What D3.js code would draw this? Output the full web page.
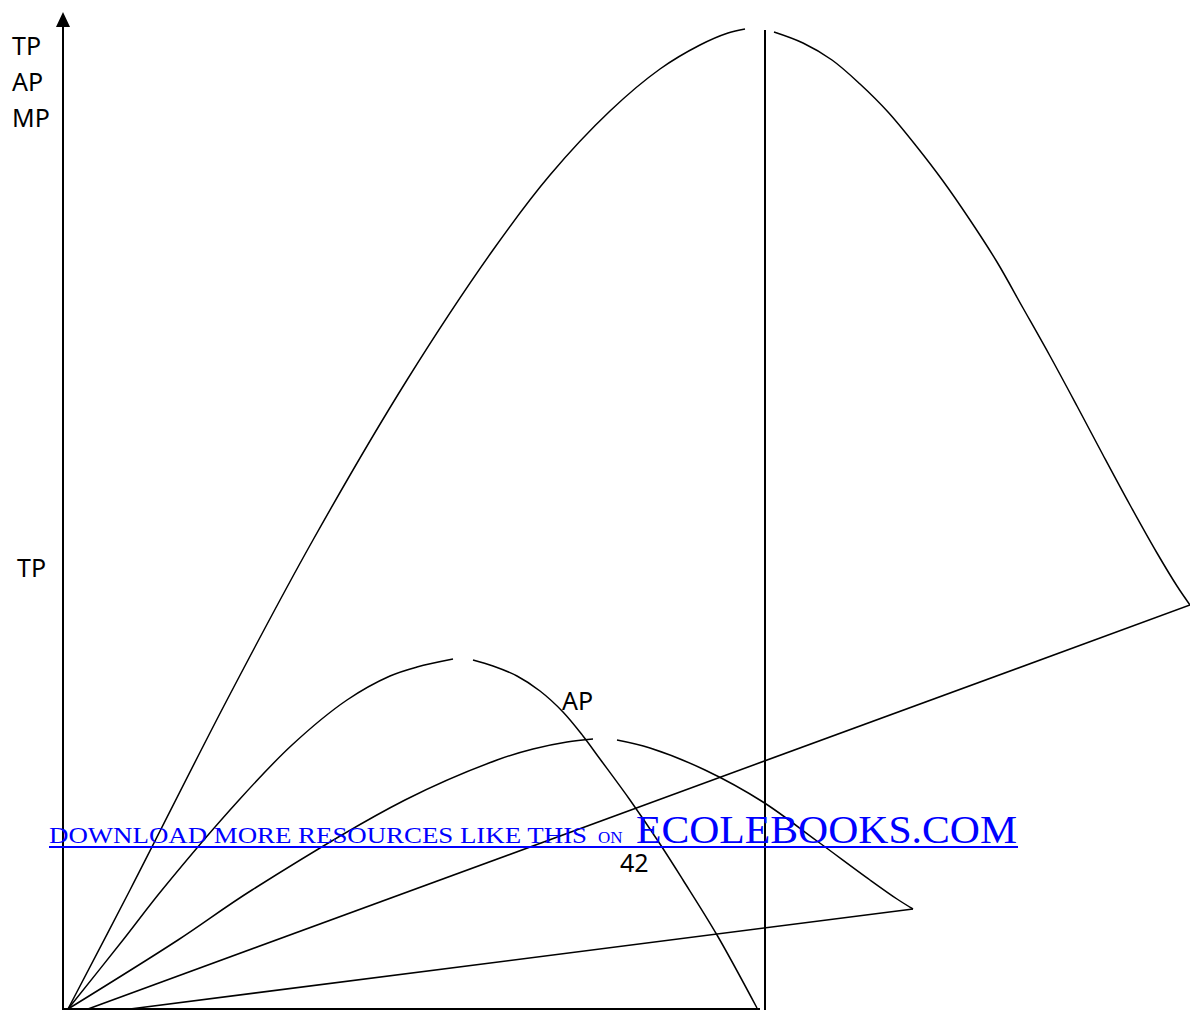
<!DOCTYPE html>
<html>
<head>
<meta charset="utf-8">
<script src="https://cdn.jsdelivr.net/npm/d3@7"></script>
<style>
  html, body { margin: 0; padding: 0; background: #fff; }
  svg { display: block; }
</style>
</head>
<body>
<svg id="chart" width="1190" height="1010"></svg>
<script>
// ---- data (drawing units: x = input, y = output) ----
const axisLabels = ["TP", "AP", "MP"];
const curveLabels = [
  { text: "TP", x: -51, y: 432 },
  { text: "AP", x: 494, y: 299 }
];
const pageNumber = "42";
const linkMain = "DOWNLOAD  MORE RESOURCES LIKE THIS";
const linkOn = "ON";
const linkBig = "ECOLEBOOKS.COM";

// Total product curve (rises to a maximum, then falls)
const tpRising = [[0,0],[62,119],[159,309],[245,469],[339,629],[425,759],[482,834],[542,898],[592,940],[632,964],[660,976],[677,980]];
const tpFalling = [[706,977],[735,966],[764,949],[792,925],[820,897],[849,862],[875,828],[902,789],[929,747],[955,701],[982,653],[1009,603],[1035,554],[1062,504],[1089,456],[1109,423],[1122,404]];

// Marginal product hump
const mpRising = [[0,0],[55,69],[94,119],[171,209],[224,264],[279,309],[322,333],[349,342],[385,350]];
const mpFalling = [[405,349],[425,343],[449,333],[472,318],[495,297],[515,273],[532,250],[562,209],[592,165],[615,129],[649,74],[689,1]];

// Average product hump
const apRising = [[0,0],[110,69],[184,119],[337,209],[429,249],[465,260],[499,267],[525,270]];
const apFalling = [[549,269],[582,261],[637,239],[695,207],[749,168],[802,129],[829,110],[845,100]];

// Straight rays
const rayUpper = [[20,0],[1122,404]];
const rayLower = [[62,0],[845,100]];

// Maximum-TP vertical and axis extents
const maxTPInput = 697;
const xAxisEnd = 692;
const yAxisTop = 997;

// ---- scales ----
const x = d3.scaleLinear().domain([0, 1122]).range([68, 1190]);
const y = d3.scaleLinear().domain([0, 1000]).range([1009, 9]);

const svg = d3.select("#chart");
svg.append("rect").attr("width", 1190).attr("height", 1010).attr("fill", "#fff");

const line = d3.line().x(d => x(d[0])).y(d => y(d[1])).curve(d3.curveCatmullRom.alpha(0.5));
const straight = d3.line().x(d => x(d[0])).y(d => y(d[1]));

const curves = [tpRising, tpFalling, mpRising, mpFalling, apRising, apFalling];
svg.selectAll("path.curve").data(curves).join("path")
  .attr("class", "curve")
  .attr("d", line)
  .attr("fill", "none").attr("stroke", "#000").attr("stroke-width", 1.5);

svg.selectAll("path.ray").data([rayUpper, rayLower]).join("path")
  .attr("class", "ray")
  .attr("d", straight)
  .attr("fill", "none").attr("stroke", "#000").attr("stroke-width", 1.6);

// axes
const axisX0 = 63;
svg.append("line").attr("x1", axisX0).attr("x2", axisX0)
  .attr("y1", y(0) + 1).attr("y2", y(yAxisTop) + 12)
  .attr("stroke", "#000").attr("stroke-width", 2);
svg.append("path")
  .attr("d", `M${axisX0},${y(yAxisTop)} L${axisX0 - 7},${y(yAxisTop) + 15} L${axisX0 + 7},${y(yAxisTop) + 15} Z`)
  .attr("fill", "#000");
svg.append("line").attr("x1", axisX0).attr("x2", x(xAxisEnd))
  .attr("y1", y(0)).attr("y2", y(0))
  .attr("stroke", "#000").attr("stroke-width", 2);

// vertical at maximum TP
svg.append("line").attr("x1", x(maxTPInput)).attr("x2", x(maxTPInput))
  .attr("y1", y(979)).attr("y2", y(0) + 1)
  .attr("stroke", "#000").attr("stroke-width", 2);

// axis labels
svg.selectAll("text.axlab").data(axisLabels).join("text")
  .attr("class", "axlab")
  .attr("x", 12).attr("y", (d, i) => 55 + i * 36)
  .attr("font-family", "'Noto Sans', sans-serif").attr("font-size", 25)
  .attr("fill", "#000").text(d => d);

svg.selectAll("text.clab").data(curveLabels).join("text")
  .attr("class", "clab")
  .attr("x", d => x(d.x)).attr("y", d => y(d.y))
  .attr("font-family", "'Noto Sans', sans-serif").attr("font-size", 25)
  .attr("fill", "#000").text(d => d.text);

// watermark link
const serif = "'Liberation Serif', 'Times New Roman', serif";
const link = svg.append("g");
link.append("text")
  .attr("x", 49).attr("y", 843)
  .attr("font-family", serif).attr("font-size", 24)
  .attr("textLength", 538).attr("lengthAdjust", "spacingAndGlyphs")
  .attr("fill", "#0000ff").text(linkMain);
link.append("text")
  .attr("x", 598).attr("y", 843)
  .attr("font-family", serif).attr("font-size", 17)
  .attr("fill", "#0000ff").text(linkOn);
link.append("text")
  .attr("x", 636).attr("y", 843)
  .attr("font-family", serif).attr("font-size", 39)
  .attr("textLength", 381).attr("lengthAdjust", "spacingAndGlyphs")
  .attr("fill", "#0000ff").text(linkBig);
link.append("line").attr("x1", 49).attr("x2", 1018)
  .attr("y1", 847).attr("y2", 847)
  .attr("stroke", "#0000ff").attr("stroke-width", 2);

svg.append("text")
  .attr("x", 620).attr("y", 872)
  .attr("font-family", "'Noto Sans', sans-serif").attr("font-size", 25)
  .attr("fill", "#000").text(pageNumber);
</script>
</body>
</html>
